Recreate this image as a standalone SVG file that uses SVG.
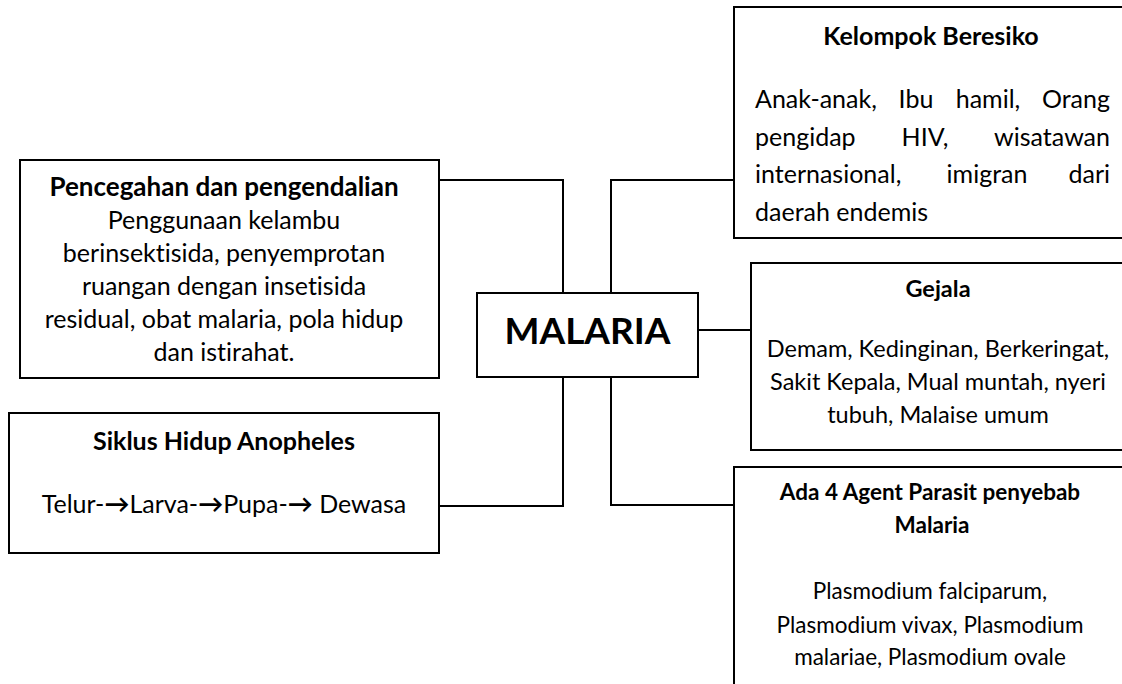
<svg xmlns="http://www.w3.org/2000/svg" width="1122" height="684" viewBox="0 0 1122 684">
<style>
.box{fill:#fff;stroke:#000;stroke-width:2}
.conn{fill:none;stroke:#000;stroke-width:2}
.t{font-family:Lato,"Open Sans","DejaVu Sans",sans-serif;font-size:25px;fill:#000;font-variant-ligatures:none;font-feature-settings:"liga" 0}
.b{font-weight:bold}
.c{text-anchor:middle}
.e{text-anchor:end}
.g{font-size:23.5px}
.a{font-size:22.5px}
.arr{font-weight:bold}
</style>
<rect width="1122" height="684" fill="#fff"/>
<g id="connectors">
<polyline class="conn" points="439,180 563,180 563,293"/>
<polyline class="conn" points="439,506 563,506 563,377"/>
<polyline class="conn" points="611,293 611,180 734,180"/>
<polyline class="conn" points="698,330 751,330"/>
<polyline class="conn" points="611,377 611,505 734,505"/>
</g>
<g id="malaria">
<rect class="box" x="477" y="293" width="221" height="84"/>
<text class="t b c" x="587.5" y="344" style="font-size:37px">MALARIA</text>
</g>
<g id="pencegahan">
<rect class="box" x="20" y="160" width="419" height="218"/>
<text class="t b c" x="224" y="196" style="font-size:26px">Pencegahan dan pengendalian</text>
<text class="t c" x="224" y="229">Penggunaan kelambu</text>
<text class="t c" x="224" y="262">berinsektisida, penyemprotan</text>
<text class="t c" x="224" y="295">ruangan dengan insetisida</text>
<text class="t c" x="224" y="328">residual, obat malaria, pola hidup</text>
<text class="t c" x="224" y="361">dan istirahat.</text>
</g>
<g id="siklus">
<rect class="box" x="9" y="413" width="430" height="140"/>
<text class="t b c" x="224" y="450">Siklus Hidup Anopheles</text>
<text class="t c" x="224" y="513">Telur-<tspan class="arr">→</tspan>Larva-<tspan class="arr">→</tspan>Pupa-<tspan class="arr">→</tspan> Dewasa</text>
</g>
<g id="kelompok">
<rect class="box" x="734" y="7" width="400" height="231"/>
<text class="t b c" x="931" y="45">Kelompok Beresiko</text>
<text class="t" x="755" y="108">Anak-anak,</text>
<text class="t c" x="916" y="108">Ibu</text>
<text class="t c" x="988" y="108">hamil,</text>
<text class="t e" x="1110" y="108">Orang</text>
<text class="t" x="755" y="145.5">pengidap</text>
<text class="t c" x="925" y="145.5">HIV,</text>
<text class="t e" x="1110" y="145.5">wisatawan</text>
<text class="t" x="755" y="183">internasional,</text>
<text class="t c" x="987" y="183">imigran</text>
<text class="t e" x="1110" y="183">dari</text>
<text class="t" x="755" y="220.5">daerah endemis</text>
</g>
<g id="gejala">
<rect class="box" x="751" y="263" width="383" height="187"/>
<text class="t b c g" x="938" y="297">Gejala</text>
<text class="t c g" x="938" y="357">Demam, Kedinginan, Berkeringat,</text>
<text class="t c g" x="938" y="390">Sakit Kepala, Mual muntah, nyeri</text>
<text class="t c g" x="938" y="423">tubuh, Malaise umum</text>
</g>
<g id="agent">
<rect class="box" x="734" y="467" width="400" height="240"/>
<text class="t b c a" x="930" y="500">Ada 4 Agent Parasit penyebab</text>
<text class="t b c a" x="932" y="533">Malaria</text>
<text class="t c a" x="930" y="599">Plasmodium falciparum,</text>
<text class="t c a" x="930" y="633">Plasmodium vivax, Plasmodium</text>
<text class="t c a" x="930" y="665">malariae, Plasmodium ovale</text>
</g>
</svg>
